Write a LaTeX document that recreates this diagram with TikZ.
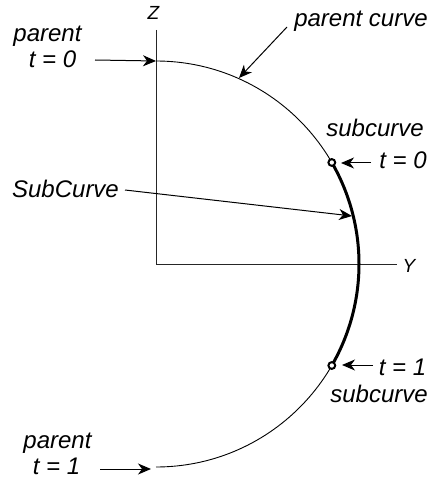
\documentclass[tikz,border=0pt]{standalone}
\usepackage{fontspec}
\setmainfont{Liberation Sans}
\usetikzlibrary{arrows.meta}
\tikzset{
  lbl/.style={font=\fontsize{24}{28}\selectfont\itshape, inner sep=0pt, anchor=base},
  axlbl/.style={font=\fontsize{19}{22}\selectfont\itshape, inner sep=0pt, anchor=base},
  ptr/.style={line width=1pt, -{Stealth[length=13pt,width=11pt,inset=4pt]}},
  axis/.style={line width=1pt, draw=black!85},
  curve/.style={line width=0.9pt},
  sub/.style={line width=3pt},
  endpt/.style={line width=2pt, fill=white}
}
\begin{document}
\begin{tikzpicture}[x=1pt,y=-1pt]
\useasboundingbox (0,0) rectangle (430,478);
% axes
\coordinate (O) at (156,264);
\coordinate (Ztop) at (156,30);
\coordinate (Yend) at (397,264);
\draw[axis] (Ztop) -- (O) -- (Yend);
\node[axlbl] (zl) at (153.5,20) {Z};
\node[axlbl] (yl) at (409,272) {Y};
% curve (y axis points down, so angles are mirrored)
\coordinate (P0) at (156,61);
\coordinate (P1) at (156,467);
\draw[curve] (P0) arc[start angle=-90, end angle=90, radius=203];
\draw[sub] (O) ++(-30:203) coordinate (S0) arc[start angle=-30, end angle=30, radius=203] coordinate (S1);
\draw[endpt] (S0) circle[radius=3.4];
\draw[endpt] (S1) circle[radius=3.4];
% labels
\node[lbl] (p0a) at (47.5,42) {parent};
\node[lbl] (p0b) at (52.5,68) {t = 0};
\coordinate (p0s) at (95,60);
\draw[ptr] (p0s) -- (P0);

\node[lbl] (pc) at (361,27) {parent curve};
\coordinate (pcs) at (287,27);
\coordinate (pct) at (239,78);
\draw[ptr] (pcs) -- (pct);

\node[lbl] (s0a) at (375,137) {subcurve};
\node[lbl] (s0b) at (403,169) {t = 0};
\coordinate (s0s) at (371,163);
\coordinate (s0t) at (341,163);
\draw[ptr] (s0s) -- (s0t);

\node[lbl] (sc) at (65.5,197) {SubCurve};
\coordinate (scs) at (125,190);
\coordinate (sct) at (352,216);
\draw[ptr] (scs) -- (sct);

\node[lbl] (s1b) at (402.5,375) {t = 1};
\node[lbl] (s1a) at (379,402) {subcurve};
\coordinate (s1s) at (373,365);
\coordinate (s1t) at (342,365);
\draw[ptr] (s1s) -- (s1t);

\node[lbl] (p1a) at (57.5,448) {parent};
\node[lbl] (p1b) at (56.5,474) {t = 1};
\coordinate (p1s) at (100,469);
\coordinate (p1t) at (151,469);
\draw[ptr] (p1s) -- (p1t);
\end{tikzpicture}
\end{document}
